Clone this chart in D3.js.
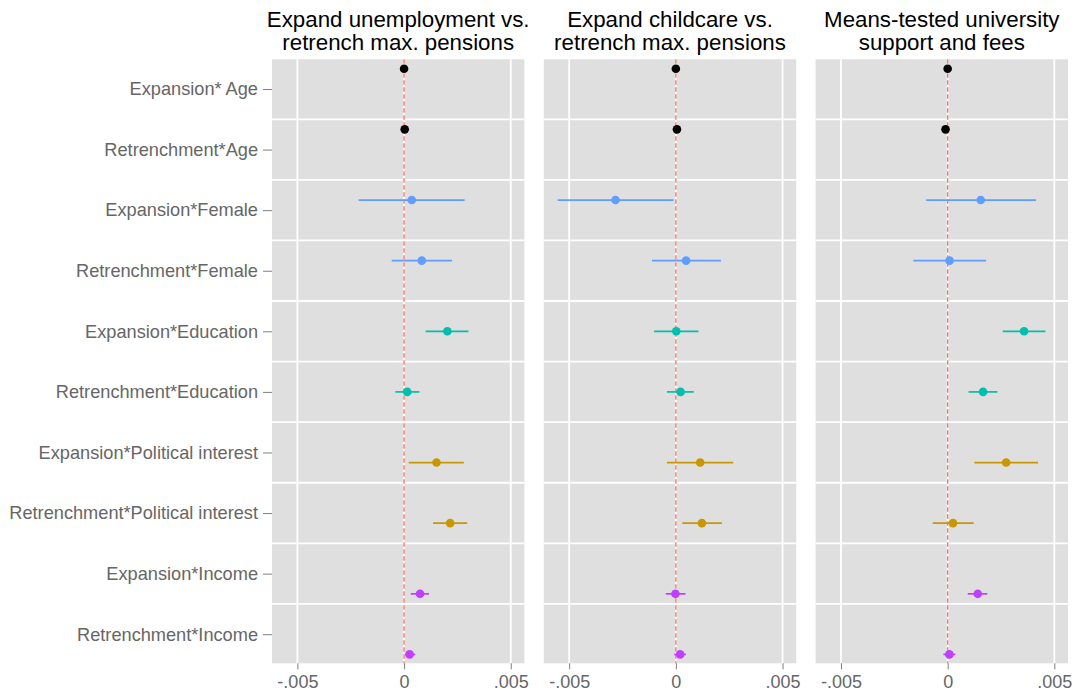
<!DOCTYPE html>
<html>
<head>
<meta charset="utf-8">
<script src="https://cdn.jsdelivr.net/npm/d3@7"></script>
<style>
  html, body { margin: 0; padding: 0; background: #ffffff; }
  svg { display: block; font-family: "Liberation Sans", Arial, Helvetica, sans-serif; }
</style>
</head>
<body>
<svg id="chart" width="1075" height="700"></svg>
<script>
// Interaction terms, top to bottom
const terms = [
  "Expansion* Age", "Retrenchment*Age",
  "Expansion*Female", "Retrenchment*Female",
  "Expansion*Education", "Retrenchment*Education",
  "Expansion*Political interest", "Retrenchment*Political interest",
  "Expansion*Income", "Retrenchment*Income"
];
// Moderator variable of each term (drives colour and dodge slot)
const moderators = ["Age", "Age", "Female", "Female", "Education", "Education",
  "Political interest", "Political interest", "Income", "Income"];
const moderatorOrder = ["Age", "Female", "Education", "Political interest", "Income"];
const moderatorColors = ["#000000", "#619CFF", "#00BFAD", "#C99700", "#BF3EFF"];

// Facet titles (two lines each)
const panelTitles = [
  ["Expand unemployment vs.", "retrench max. pensions"],
  ["Expand childcare vs.", "retrench max. pensions"],
  ["Means-tested university", "support and fees"]
];

// Estimates and confidence bounds per facet, in term order
const estUnemployment = [0.00000, 0.00003, 0.00036, 0.00083, 0.00203, 0.00015, 0.00152, 0.00216, 0.00075, 0.00026];
const loUnemployment  = [-0.00003, 0.00000, -0.00213, -0.00058, 0.00101, -0.00041, 0.00022, 0.00136, 0.00031, 0.00005];
const hiUnemployment  = [0.00003, 0.00006, 0.00284, 0.00225, 0.00302, 0.00072, 0.00280, 0.00296, 0.00117, 0.00052];

const estChildcare = [0.00000, 0.00005, -0.00283, 0.00048, 0.00002, 0.00022, 0.00114, 0.00122, -0.00002, 0.00020];
const loChildcare  = [-0.00003, 0.00002, -0.00554, -0.00112, -0.00102, -0.00042, -0.00042, 0.00030, -0.00047, -0.00008];
const hiChildcare  = [0.00003, 0.00008, -0.00011, 0.00211, 0.00106, 0.00084, 0.00269, 0.00216, 0.00045, 0.00047];

const estUniversity = [0.00000, -0.00010, 0.00155, 0.00009, 0.00358, 0.00166, 0.00274, 0.00025, 0.00141, 0.00008];
const loUniversity  = [-0.00003, -0.00013, -0.00101, -0.00161, 0.00258, 0.00098, 0.00125, -0.00070, 0.00094, -0.00020];
const hiUniversity  = [0.00003, -0.00007, 0.00414, 0.00180, 0.00458, 0.00233, 0.00424, 0.00122, 0.00186, 0.00036];

// X axis breaks and labels
const xTicks = [-0.005, 0, 0.005];
const xTickLabels = ["-.005", "0", ".005"];

const panelsData = [
  { est: estUnemployment, lo: loUnemployment, hi: hiUnemployment },
  { est: estChildcare, lo: loChildcare, hi: hiChildcare },
  { est: estUniversity, lo: loUniversity, hi: hiUniversity }
];

// ---- layout ----
const svg = d3.select("#chart");
const panelLeft = [272, 543.8, 815.6];
const panelWidth = 252.4;
const panelTop = 59.3, panelBottom = 663.3;

const y = d3.scaleLinear().domain([-0.49, 9.48]).range([panelTop, panelBottom]);
const colour = d3.scaleOrdinal().domain(moderatorOrder).range(moderatorColors);
// dodge: each moderator gets its own vertical slot inside a row
const dodge = m => (moderatorOrder.indexOf(m) - 2) / 6;

const rowIdx = d3.range(terms.length);

panelsData.forEach((pd, p) => {
  const x = d3.scaleLinear().domain([-0.00619, 0.00564])
    .range([panelLeft[p], panelLeft[p] + panelWidth]);
  const g = svg.append("g");

  // panel background
  g.append("rect")
    .attr("x", panelLeft[p]).attr("y", panelTop)
    .attr("width", panelWidth).attr("height", panelBottom - panelTop)
    .attr("fill", "#DFDFDF");

  // horizontal grid lines between rows
  g.selectAll("line.hgrid").data(d3.range(terms.length - 1)).join("line")
    .attr("class", "hgrid")
    .attr("x1", panelLeft[p]).attr("x2", panelLeft[p] + panelWidth)
    .attr("y1", d => y(d + 0.5)).attr("y2", d => y(d + 0.5))
    .attr("stroke", "#ffffff").attr("stroke-width", 1.8);

  // vertical grid lines at breaks
  g.selectAll("line.vgrid").data(xTicks).join("line")
    .attr("class", "vgrid")
    .attr("x1", d => x(d)).attr("x2", d => x(d))
    .attr("y1", panelTop).attr("y2", panelBottom)
    .attr("stroke", "#ffffff").attr("stroke-width", 1.8);

  // reference line at zero
  g.append("line")
    .attr("x1", x(0)).attr("x2", x(0))
    .attr("y1", panelTop).attr("y2", panelBottom)
    .attr("stroke", "#F8766D").attr("stroke-width", 1.4)
    .attr("stroke-dasharray", "4.5,2.5");

  // confidence intervals
  g.selectAll("line.ci").data(rowIdx).join("line")
    .attr("class", "ci")
    .attr("x1", i => x(pd.lo[i])).attr("x2", i => x(pd.hi[i]))
    .attr("y1", i => y(i + dodge(moderators[i])))
    .attr("y2", i => y(i + dodge(moderators[i])))
    .attr("stroke", i => colour(moderators[i]))
    .attr("stroke-width", 1.7);

  // point estimates
  g.selectAll("circle.est").data(rowIdx).join("circle")
    .attr("class", "est")
    .attr("cx", i => x(pd.est[i]))
    .attr("cy", i => y(i + dodge(moderators[i])))
    .attr("r", 4.3)
    .attr("fill", i => colour(moderators[i]));

  // x axis
  const xAxis = d3.axisBottom(x).tickValues(xTicks)
    .tickFormat((d, i) => xTickLabels[i]).tickSize(6).tickPadding(6);
  const ax = svg.append("g")
    .attr("transform", `translate(0,${panelBottom})`)
    .call(xAxis);
  ax.select(".domain").remove();
  ax.selectAll(".tick line").attr("stroke", "#7F7F7F").attr("stroke-width", 1);
  ax.selectAll(".tick text").attr("fill", "#666666")
    .attr("font-size", "18px").attr("dy", "0.71em");

  // facet title, one text element per line
  svg.append("g").selectAll("text").data(panelTitles[p]).join("text")
    .attr("x", panelLeft[p] + panelWidth / 2)
    .attr("y", (d, k) => 27 + k * 22.5)
    .attr("text-anchor", "middle")
    .attr("font-size", "22.3px").attr("fill", "#000000")
    .text(d => d);
});

// y axis with term labels
const yAxis = d3.axisLeft(y).tickValues(rowIdx)
  .tickFormat(i => terms[i]).tickSize(9).tickPadding(5);
const ay = svg.append("g")
  .attr("transform", `translate(${panelLeft[0]},0)`)
  .call(yAxis);
ay.select(".domain").remove();
ay.selectAll(".tick line").attr("stroke", "#7F7F7F").attr("stroke-width", 1);
ay.selectAll(".tick text").attr("fill", "#666666").attr("font-size", "18.2px");
</script>
</body>
</html>
